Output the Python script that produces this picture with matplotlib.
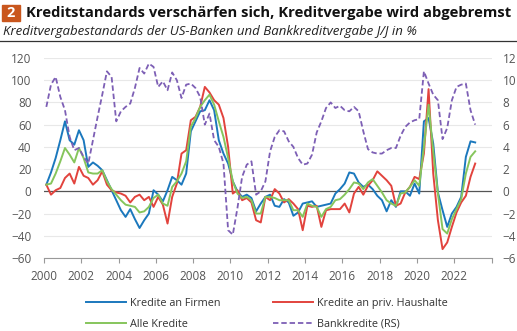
import numpy as np
import matplotlib
matplotlib.use('Agg')
import matplotlib.pyplot as plt
from matplotlib.lines import Line2D

plt.rcParams['font.family'] = ['Open Sans', 'DejaVu Sans']

# quarterly, 2000Q1 .. 2023Q1
start_year = 2000
firmen = [6, 17, 30, 46, 63, 46, 42, 55, 46, 22, 26, 23, 19, 10, 1, -8, -17, -23, -16, -25, -33,
          -26, -20, 1, -3, -9, 1, 13, 10, 6, 16, 54, 63, 72, 73, 82, 73, 46, 34, 25, 9,
          0, -5, -3, -6, -18, -11, -5, -3, -13, -14, -7, -10, -22, -19, -11, -10, -9, -14, -13, -12,
          -11, -2, 2, 7, 17, 16, 8, 4, 6, 2, -4, -8, -18, -8, -14, 0, 0, -4, 7, -2,
          63, 66, 43, -1, -17, -32, -20, -14, -5, 31, 45, 44]
haushalte = [6, -3, 1, 3, 12, 16, 7, 22, 14, 12, 6, 10, 18, 6, 1, -1, -2, -4, -10, -5, -3,
             -8, -5, -14, -5, -12, -29, -5, 7, 34, 37, 64, 67, 76, 94, 89, 82, 78, 66, 40, -2,
             1, -8, -6, -10, -26, -28, -5, -8, 2, -2, -10, -7, -11, -16, -35, -13, -14, -13, -32, -17,
             -16, -16, -16, -11, -19, -2, 4, -3, 5, 10, 18, 14, 10, 5, -13, -11, -1, 4, 13, 11,
             34, 92, 16, -26, -52, -46, -32, -19, -10, -4, 13, 25]
alle = [6, 7, 16, 27, 39, 33, 26, 39, 30, 17, 16, 16, 19, 9, 2, -3, -8, -12, -13, -14, -19,
        -18, -14, -6, -3, -11, -13, 4, 9, 16, 27, 58, 66, 76, 82, 87, 78, 63, 49, 30, 9,
        -2, -6, -5, -8, -20, -20, -5, -5, -6, -8, -8, -8, -17, -17, -23, -11, -13, -14, -23, -16,
        -14, -8, -7, -3, 2, 8, 7, 2, 8, 11, 5, -1, -8, -11, -13, -2, -1, 4, 10, 5,
        40, 78, 36, -2, -34, -38, -25, -16, -7, 16, 31, 36]
bankkredite = [7.6, 9.6, 10.3, 8.5, 7.3, 4.9, 3.7, 3.9, 3.1, 2.5, 4.6, 6.7, 8.7, 10.8, 10.3, 6.3, 7.2, 7.6, 7.9, 9.3, 11.1,
               10.6, 11.5, 11.2, 9.4, 9.9, 9.1, 10.7, 10.0, 8.4, 9.6, 9.7, 9.3, 8.5, 6.0, 7.0, 4.6, 4.0, 2.5, -3.5, -3.9,
               -1.5, 1.3, 2.4, 2.7, -0.3, 0.0, 0.9, 3.6, 4.9, 5.5, 5.4, 4.5, 4.0, 3.0, 2.4, 2.5, 3.3, 5.3, 6.3, 7.5,
               8.0, 7.5, 7.7, 7.3, 7.2, 7.6, 7.2, 5.4, 3.8, 3.5, 3.4, 3.4, 3.7, 3.9, 3.9, 5.0, 5.8, 6.2, 6.4, 6.5,
               10.8, 9.7, 8.7, 8.2, 4.7, 5.7, 8.2, 9.4, 9.6, 9.7, 7.3, 6.0]

labels = ['Kredite an Firmen', 'Kredite an priv. Haushalte', 'Alle Kredite', 'Bankkredite (RS)']
c_blue, c_red, c_green, c_purple = '#1b78bd', '#e2433d', '#86c55c', '#7d5fb5'
tick_col = '#555555'
dash = (0, (3, 1.6))

x = start_year + 0.125 + 0.25 * np.arange(len(firmen))

W, H = 517, 331
fig = plt.figure(figsize=(W / 100, H / 100), dpi=100)
ax = fig.add_axes([44 / W, 1 - 258 / H, (491.5 - 44) / W, (258 - 58) / H])
ax2 = ax.twinx()

for yv in range(-60, 121, 20):
    if yv != 0:
        ax.axhline(yv, color='#e8e8e8', lw=0.8, zorder=0)
ax.axhline(0, color='#555555', lw=0.9, zorder=1)

ax.plot(x, firmen, color=c_blue, lw=1.4, zorder=3)
ax.plot(x, haushalte, color=c_red, lw=1.4, zorder=3)
ax.plot(x, alle, color=c_green, lw=1.4, zorder=3)
ax2.plot(x, bankkredite, color=c_purple, lw=1.3, ls=dash)

ax.set_xlim(2000, 2024)
ax.set_ylim(-60, 120)
ax2.set_ylim(-6, 12)
ax.set_yticks(range(-60, 121, 20))
ax2.set_yticks(range(-6, 13, 2))
ax.set_xticks(range(2000, 2025, 2))
ax.set_xticklabels([str(y) if y < 2024 else '' for y in range(2000, 2025, 2)])

for a in (ax, ax2):
    for s in ('top', 'left', 'right', 'bottom'):
        a.spines[s].set_visible(False)
ax.spines['bottom'].set_visible(True)
ax.spines['bottom'].set_color('#999999')
ax.spines['bottom'].set_linewidth(0.8)

ax.tick_params(axis='x', length=3.5, width=0.8, color='#999999', pad=5, labelsize=8.5, labelcolor=tick_col)
ax.tick_params(axis='y', length=0, pad=9, labelsize=8.5, labelcolor=tick_col)
ax2.tick_params(axis='y', length=0, pad=8, labelsize=8.5, labelcolor=tick_col)

# title block
fig.patches.append(plt.Rectangle((2 / W, 1 - 21 / H), 18 / W, 16 / H, transform=fig.transFigure,
                                 color='#c9561d', zorder=5))
fig.text(11 / W, 1 - 13 / H, '2', color='white', fontsize=10.5, fontweight='bold',
         ha='center', va='center', zorder=6)
fig.text(26 / W, 1 - 13 / H, 'Kreditstandards verschärfen sich, Kreditvergabe wird abgebremst',
         fontsize=10.6, fontweight='bold', ha='left', va='center', color='#111111')
fig.text(3 / W, 1 - 31 / H, 'Kreditvergabestandards der US-Banken und Bankkreditvergabe J/J in %',
         fontsize=9.5, style='italic', ha='left', va='center', color='#222222')
fig.add_artist(Line2D([0, 1], [1 - 41 / H, 1 - 41 / H], transform=fig.transFigure, color='#333333', lw=0.9))

handles = [Line2D([], [], color=c_blue, lw=1.4), Line2D([], [], color=c_green, lw=1.4),
           Line2D([], [], color=c_red, lw=1.4), Line2D([], [], color=c_purple, lw=1.3, ls=dash)]
leg = fig.legend(handles, [labels[0], labels[2], labels[1], labels[3]], ncol=2, frameon=False,
                 loc='upper left', bbox_to_anchor=(86 / W, 1 - 298 / H), fontsize=7.8,
                 handlelength=3.7, handletextpad=0.37, columnspacing=4.85, labelspacing=0.88,
                 borderpad=0, borderaxespad=0)
for t in leg.get_texts():
    t.set_color('#333333')

fig.savefig('out.png', dpi=100)
